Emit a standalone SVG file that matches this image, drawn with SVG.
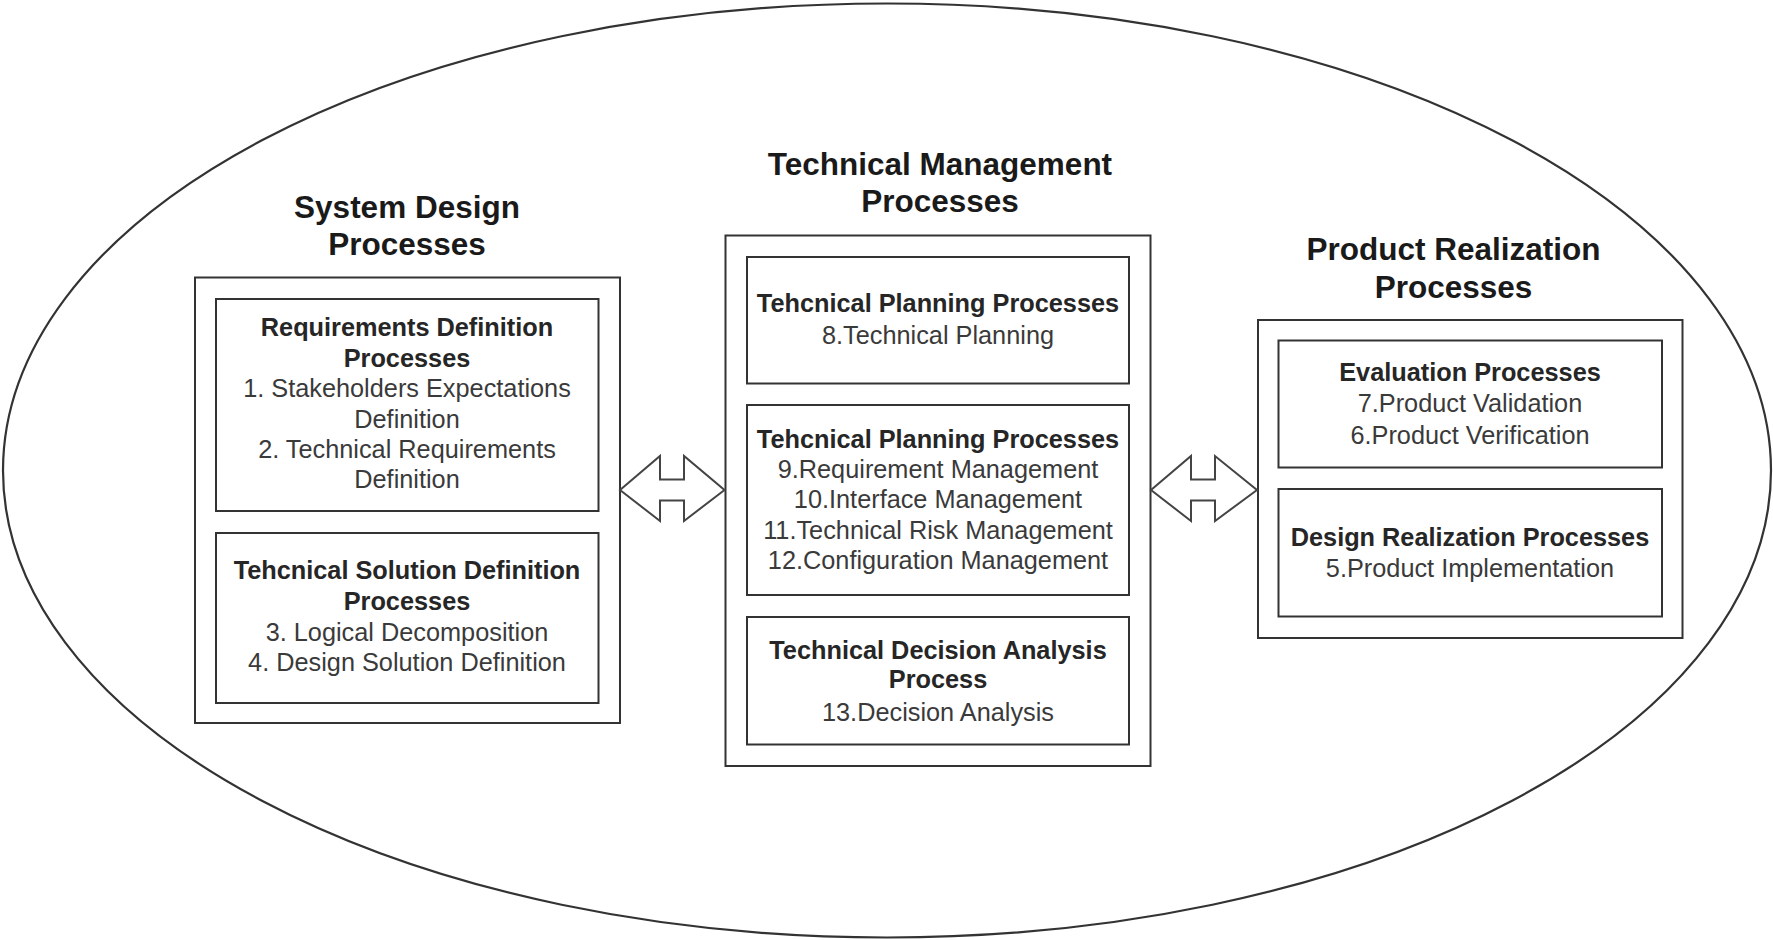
<svg xmlns="http://www.w3.org/2000/svg" width="1773" height="940" viewBox="0 0 1773 940">
<style>
.box{fill:#fff;stroke:#333;stroke-width:2}
.arrow{fill:#fff;stroke:#444;stroke-width:2;stroke-linejoin:miter}
.title{font-family:"Liberation Sans",Arial,sans-serif;font-weight:bold;font-size:31.5px;fill:#1a1a1a;text-anchor:middle}
.head{font-family:"Liberation Sans",Arial,sans-serif;font-weight:bold;font-size:25.3px;fill:#262626;text-anchor:middle}
.item{font-family:"Liberation Sans",Arial,sans-serif;font-size:25.3px;fill:#3a3a3a;text-anchor:middle}
</style>
<rect width="1773" height="940" fill="#fff"/>
<ellipse id="boundary" cx="887" cy="470.5" rx="884" ry="467" fill="none" stroke="#333" stroke-width="2.2"/>

<g id="system-design">
<text class="title" x="407" y="218">System Design</text>
<text class="title" x="407" y="255">Processes</text>
<rect class="box" x="195" y="277.5" width="425" height="445.5"/>
</g>
<g id="requirements-definition">
<rect class="box" x="216" y="299" width="382.5" height="212"/>
<text class="head" x="407" y="336">Requirements Definition</text>
<text class="head" x="407" y="367">Processes</text>
<text class="item" x="407" y="397">1. Stakeholders Expectations</text>
<text class="item" x="407" y="428">Definition</text>
<text class="item" x="407" y="458">2. Technical Requirements</text>
<text class="item" x="407" y="488">Definition</text>
</g>
<g id="solution-definition">
<rect class="box" x="216" y="533" width="382.5" height="170"/>
<text class="head" x="407" y="579">Tehcnical Solution Definition</text>
<text class="head" x="407" y="610">Processes</text>
<text class="item" x="407" y="641">3. Logical Decomposition</text>
<text class="item" x="407" y="671">4. Design Solution Definition</text>
</g>

<g id="technical-management">
<text class="title" x="940" y="175">Technical Management</text>
<text class="title" x="940" y="212">Processes</text>
<rect class="box" x="725.5" y="235.5" width="425" height="530.5"/>
</g>
<g id="planning-1">
<rect class="box" x="747" y="257" width="382" height="126.5"/>
<text class="head" x="938" y="312">Tehcnical Planning Processes</text>
<text class="item" x="938" y="344">8.Technical Planning</text>
</g>
<g id="planning-2">
<rect class="box" x="747" y="405" width="382" height="190"/>
<text class="head" x="938" y="448">Tehcnical Planning Processes</text>
<text class="item" x="938" y="477.5">9.Requirement Management</text>
<text class="item" x="938" y="508">10.Interface Management</text>
<text class="item" x="938" y="538.5">11.Technical Risk Management</text>
<text class="item" x="938" y="569">12.Configuration Management</text>
</g>
<g id="decision-analysis">
<rect class="box" x="747" y="617" width="382" height="127.5"/>
<text class="head" x="938" y="658.5">Technical Decision Analysis</text>
<text class="head" x="938" y="688">Process</text>
<text class="item" x="938" y="721">13.Decision Analysis</text>
</g>

<g id="product-realization">
<text class="title" x="1453.5" y="260">Product Realization</text>
<text class="title" x="1453.5" y="297.5">Processes</text>
<rect class="box" x="1258" y="320" width="424.5" height="318"/>
</g>
<g id="evaluation">
<rect class="box" x="1278.5" y="340.5" width="383.5" height="127"/>
<text class="head" x="1470" y="381">Evaluation Processes</text>
<text class="item" x="1470" y="412">7.Product Validation</text>
<text class="item" x="1470" y="443.5">6.Product Verification</text>
</g>
<g id="design-realization">
<rect class="box" x="1278.5" y="489" width="383.5" height="127.5"/>
<text class="head" x="1470" y="545.5">Design Realization Processes</text>
<text class="item" x="1470" y="577">5.Product Implementation</text>
</g>

<g id="connectors">
<path class="arrow" d="M620,490 L660,456 L660,479.5 L684,479.5 L684,456 L724.5,490 L684,521 L684,500.5 L660,500.5 L660,521 Z"/>
<path class="arrow" d="M1151,490 L1191,456 L1191,479.5 L1215,479.5 L1215,456 L1257,490 L1215,521 L1215,500.5 L1191,500.5 L1191,521 Z"/>
</g>
</svg>
